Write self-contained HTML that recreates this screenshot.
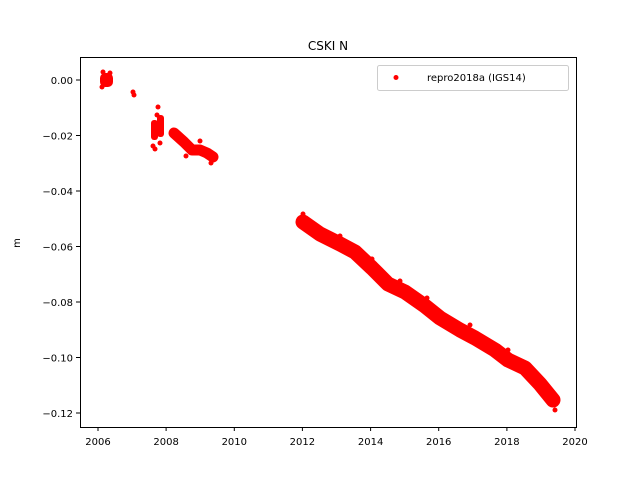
<!DOCTYPE html>
<html><head><meta charset="utf-8"><style>body{margin:0;background:#fff}svg{display:block}text{font-family:"DejaVu Sans","Liberation Sans",sans-serif;font-size:10px;fill:#000}</style></head><body>
<svg width="640" height="480" xmlns="http://www.w3.org/2000/svg">
<rect width="640" height="480" fill="#fff"/>
<g fill="red" stroke="none">
<!-- 2006 cluster -->
<rect x="100" y="73" width="13" height="14" rx="5"/>
<circle cx="103" cy="72" r="2.5"/><circle cx="110" cy="73" r="2.5"/><circle cx="102" cy="87" r="2.5"/>
<circle cx="133" cy="92" r="2.5"/><circle cx="134" cy="95" r="2.5"/>
<!-- 2007.7 -->
<rect x="151" y="120" width="7" height="20" rx="3"/><rect x="157" y="115" width="7" height="22" rx="3"/>
<circle cx="158" cy="107" r="2.5"/><circle cx="157" cy="115" r="2.5"/><circle cx="155" cy="149" r="2.5"/><circle cx="153" cy="146" r="2.5"/><circle cx="160" cy="143" r="2.5"/>
<!-- 2008-2009 -->
<path d="M174 133 L184 142 L192 150 L200 150 L207 153 L213 157" stroke="red" stroke-width="11" stroke-linecap="round" stroke-linejoin="round" fill="none"/>
<circle cx="200" cy="141" r="2.5"/><circle cx="211" cy="163" r="2.5"/><circle cx="186" cy="156" r="2.5"/>
<!-- 2012-2019 -->
<path d="M303 222 L320 234 L340 244 L355 252 L372 268 L388 284 L405 292 L425 306 L440 318 L460 330 L475 338 L495 350 L508 360 L525 368 L540 384 L553 400" stroke="red" stroke-width="15" stroke-linecap="round" stroke-linejoin="round" fill="none"/>
<circle cx="303" cy="214" r="2.5"/><circle cx="340" cy="236" r="2.5"/><circle cx="372" cy="259" r="2.5"/><circle cx="400" cy="281" r="2.5"/><circle cx="427" cy="298" r="2.5"/><circle cx="470" cy="325" r="2.5"/><circle cx="508" cy="350" r="2.5"/><circle cx="538" cy="378" r="2.5"/><circle cx="555" cy="410" r="2.5"/>
</g>
<rect x="80.5" y="57.5" width="496" height="370" fill="none" stroke="#000" stroke-width="1"/>
<g stroke="#000" stroke-width="1">
<line x1="98" y1="427" x2="98" y2="431"/><line x1="166.1" y1="427" x2="166.1" y2="431"/><line x1="234.3" y1="427" x2="234.3" y2="431"/><line x1="302.4" y1="427" x2="302.4" y2="431"/><line x1="370.6" y1="427" x2="370.6" y2="431"/><line x1="438.7" y1="427" x2="438.7" y2="431"/><line x1="506.9" y1="427" x2="506.9" y2="431"/><line x1="575" y1="427" x2="575" y2="431"/>
<line x1="76" y1="80" x2="80" y2="80"/><line x1="76" y1="135.5" x2="80" y2="135.5"/><line x1="76" y1="191" x2="80" y2="191"/><line x1="76" y1="246.5" x2="80" y2="246.5"/><line x1="76" y1="302" x2="80" y2="302"/><line x1="76" y1="357.5" x2="80" y2="357.5"/><line x1="76" y1="413" x2="76" y2="413"/><line x1="76" y1="413" x2="80" y2="413"/>
</g>
<g text-anchor="middle">
<text x="98" y="445">2006</text><text x="166.1" y="445">2008</text><text x="234.3" y="445">2010</text><text x="302.4" y="445">2012</text><text x="370.6" y="445">2014</text><text x="438.7" y="445">2016</text><text x="506.9" y="445">2018</text><text x="575" y="445">2020</text>
</g>
<g text-anchor="end">
<text x="73" y="84">0.00</text><text x="73" y="139.5">−0.02</text><text x="73" y="195">−0.04</text><text x="73" y="250.5">−0.06</text><text x="73" y="306">−0.08</text><text x="73" y="361.5">−0.10</text><text x="73" y="417">−0.12</text>
</g>
<text x="20" y="243" text-anchor="middle" transform="rotate(-90 20 243)">m</text>
<text x="328" y="50" text-anchor="middle" style="font-size:12px">CSKI N</text>
<rect x="377.5" y="65.5" width="191" height="25" rx="2" fill="#fff" stroke="#ccc"/>
<circle cx="396" cy="77.5" r="2.5" fill="red"/>
<text x="427" y="81">repro2018a (IGS14)</text>
</svg>
</body></html>
